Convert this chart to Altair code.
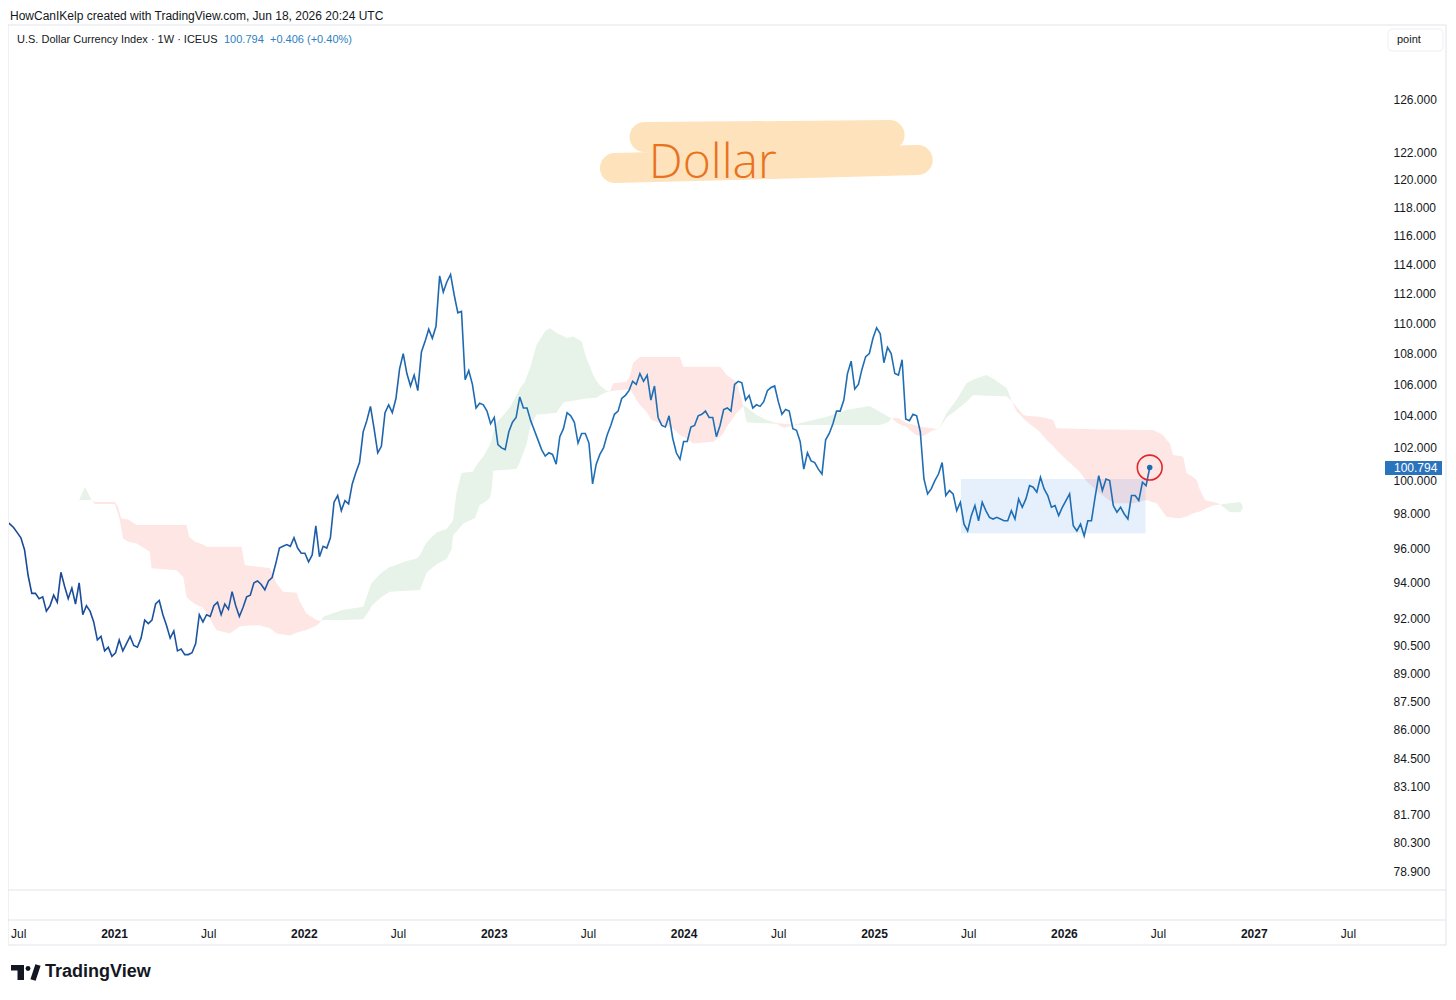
import altair as alt
import numpy as np
import pandas as pd

# ---------------- data ----------------
START = "2020-06-08"  # Monday of first weekly bar

close_2020 = [97.6, 97.4, 97.2, 96.9, 96.6, 95.9, 94.4, 93.4, 93.4, 93.1,
              93.2, 92.4, 92.7, 93.3, 92.9, 94.6, 93.8, 93.1, 93.7, 92.8,
              94.0, 92.2, 92.7, 92.4, 91.8, 90.8, 91.0, 90.2, 90.4, 89.9]
close_2021 = [90.1, 90.8, 90.2, 90.6, 91.0, 90.5, 90.4, 90.9, 91.9, 91.7,
              91.9, 92.8, 93.0, 92.2, 91.6, 90.9, 91.3, 90.2, 90.3, 90.0,
              90.0, 90.1, 90.6, 92.2, 91.8, 92.2, 92.1, 92.7, 92.9, 92.2,
              92.8, 92.5, 93.5, 92.7, 92.1, 92.6, 93.2, 93.3, 94.0, 94.1,
              93.9, 93.6, 94.1, 94.3, 95.1, 96.0, 96.1, 96.2, 96.1, 96.6,
              96.0, 95.7]
close_2022 = [95.7, 95.2, 95.6, 97.3, 95.5, 96.1, 96.0, 96.6, 98.7, 99.1,
              98.2, 98.8, 98.6, 99.8, 100.5, 101.1, 103.0, 103.7, 104.6, 103.2,
              101.7, 102.1, 104.2, 104.7, 104.2, 105.1, 107.0, 108.0, 106.7, 105.9,
              106.6, 105.6, 108.1, 108.8, 109.6, 109.0, 109.8, 113.2, 112.1, 112.8,
              113.3, 111.9, 110.7, 110.8, 106.3, 106.9, 106.0, 104.5, 104.8, 104.7,
              104.3, 103.5]
close_2023 = [103.9, 102.2, 102.0, 101.9, 103.0, 103.6, 103.9, 105.2, 104.5, 104.5,
              103.7, 103.1, 102.5, 101.9, 101.5, 101.7, 101.6, 101.0, 102.7, 103.2,
              104.2, 104.0, 103.6, 102.3, 102.9, 102.9, 102.3, 99.8, 101.0, 101.6,
              102.0, 102.8, 103.4, 104.1, 104.3, 105.1, 105.3, 105.6, 106.2, 106.0,
              106.7, 106.2, 106.6, 105.0, 105.9, 103.9, 103.4, 103.3, 104.0, 102.6,
              101.7, 101.3]
close_2024 = [102.4, 102.4, 103.3, 103.4, 104.0, 104.1, 104.3, 103.9, 103.9, 102.7,
              103.4, 104.4, 104.5, 104.3, 106.0, 106.2, 106.1, 105.0, 105.3, 104.5,
              104.7, 104.6, 104.9, 105.6, 105.8, 105.9, 104.9, 104.1, 104.4, 104.3,
              103.2, 103.1, 102.4, 100.7, 101.7, 101.2, 101.1, 100.7, 100.4, 102.5,
              102.9, 103.5, 104.3, 104.3, 105.0, 106.7, 107.5, 105.7, 106.0, 107.0,
              107.8, 108.0]
close_2025 = [109.0, 109.7, 109.3, 107.4, 108.4, 108.0, 106.7, 106.6, 107.6, 103.8,
              103.7, 104.1, 104.0, 103.0, 100.1, 99.2, 99.5, 100.0, 100.4, 101.1,
              99.1, 99.4, 99.2, 98.2, 98.7, 97.4, 97.0, 97.9, 98.5, 97.6,
              98.7, 98.2, 97.8, 97.7, 97.8, 97.7, 97.6, 97.6, 98.2, 97.7,
              98.9, 98.4, 98.9, 99.7, 99.6, 99.3, 100.2, 99.5, 99.1, 98.4,
              98.5, 97.9]
close_2026 = [98.4, 98.8, 99.2, 97.3, 97.0, 97.4, 96.7, 97.6, 97.6, 99.0,
              100.3, 99.4, 100.1, 100.0, 98.5, 98.1, 98.4, 98.0, 97.7, 99.1,
              99.1, 98.8, 99.9, 99.7, 100.794]

# Ichimoku cloud edges, position in weeks from START
cloud_w = [20.0, 21.6, 23.4,
           23.4, 24.3, 29.8, 30.7, 31.2, 31.6, 32.1, 33.5, 35.8, 39.4, 39.9, 46.7, 48.6, 49.5,
           50.2, 51.8, 54.0, 55.0, 55.9, 57.7, 61.4, 64.1, 64.6, 65.5, 69.6, 72.4, 74.2, 76.0,
           77.9, 79.7, 80.6, 82.4, 85.2, 86.5,
           86.5, 87.0, 92.3, 98.0, 99.8, 100.3, 103.0, 105.3, 106.2, 109.9, 112.7, 113.6, 114.9,
           115.4, 117.2, 118.2, 120.9, 122.3, 122.7, 123.6, 125.0, 125.5, 128.2, 128.7, 130.0,
           131.0, 132.8, 133.3, 133.7, 134.6, 136.4, 138.3, 140.1, 141.0, 141.5, 142.4, 142.9,
           143.8, 145.6, 147.9, 149.3, 151.1, 152.9, 153.9, 155.7, 158.0, 159.3, 161.2, 162.1,
           163.0, 164.8, 165.8,
           165.8, 166.7, 170.3, 171.2, 172.1, 173.1, 174.0, 175.8, 177.2, 179.5, 183.1, 185.0,
           185.9, 186.8, 188.6, 194.1, 196.0, 196.9, 197.8, 200.5, 202.4,
           202.4, 203.3, 206.0, 208.8, 211.5,
           211.5, 213.5, 216.3,
           216.3, 217.9, 221.6, 225.3, 230.7, 237.1, 239.9, 242.2, 243.1,
           243.1, 245.0, 247.3, 248.1, 249.9, 251.8, 254.6, 256.0,
           256.0, 258.2, 260.9, 263.7, 265.5, 266.5, 269.2, 271.5, 274.7, 276.2,
           276.2, 277.4, 279.3, 280.2, 283.8, 285.7, 287.5, 288.4, 291.2, 294.8, 296.7, 300.3,
           304.0, 309.5, 313.2, 314.9, 315.9, 317.7, 318.6, 319.5, 320.4, 322.3, 323.2, 324.1,
           326.0, 326.9, 327.8, 329.2, 329.6, 331.4, 332.8, 333.3,
           333.3, 336.0, 338.8, 339.5]
cloud_top = [98.83, 99.63, 98.83,
             98.83, 98.72, 98.72, 98.43, 98.00, 97.74, 97.72, 97.68, 97.35, 97.35, 97.35, 97.35,
             97.35, 97.35, 96.66, 96.37, 96.20, 96.08, 96.08, 96.08, 96.08, 96.08, 96.08, 95.01,
             94.91, 94.84, 93.97, 93.49, 93.46, 93.43, 92.93, 92.27, 91.90, 91.85,
             91.85, 92.09, 92.46, 92.65, 93.70, 93.99, 94.57, 94.90, 94.96, 95.25, 95.39, 95.60,
             96.13, 96.30, 96.72, 96.90, 97.12, 97.50, 97.64, 99.23, 100.45, 100.48, 100.55,
             100.80, 101.20, 101.47, 102.20, 102.52, 102.90, 103.59, 104.01, 104.55, 105.30,
             105.73, 105.90, 106.16, 106.50, 107.02, 108.56, 109.46, 109.68, 109.35, 109.15,
             109.02, 109.13, 108.80, 107.70, 106.60, 106.20, 105.95, 105.60, 105.55,
             105.55, 106.07, 106.17, 106.50, 107.37, 107.60, 107.77, 107.77, 107.77, 107.77,
             107.77, 107.77, 107.14, 107.14, 107.14, 107.14, 107.14, 106.90, 106.60, 106.17, 104.65,
             104.65, 104.55, 104.05, 103.74, 103.55,
             103.55, 103.50, 103.45,
             103.45, 103.53, 103.74, 103.95, 104.37, 104.62, 104.26, 103.95, 103.85,
             103.85, 103.85, 103.53, 103.50, 103.40, 103.30, 103.20, 103.15,
             103.15, 104.16, 105.00, 106.08, 106.30, 106.40, 106.61, 106.30, 105.77, 104.90,
             104.90, 104.57, 104.05, 104.00, 103.95, 103.85, 103.74, 103.22, 103.20, 103.18,
             103.17, 103.15, 103.14, 103.13, 103.12, 103.11, 103.00, 102.80, 102.50, 102.29,
             101.57, 101.50, 101.46, 100.46, 100.20, 100.04, 99.43, 98.83, 98.80, 98.72, 98.62,
             98.57,
             98.57, 98.64, 98.72, 98.50]
cloud_bot = [98.83, 98.83, 98.83,
             98.83, 98.60, 98.60, 98.00, 97.64, 97.10, 96.56, 96.36, 96.27, 95.79, 94.83, 94.72,
             94.34, 93.21, 93.05, 92.80, 92.59, 92.30, 91.97, 91.35, 91.16, 91.54, 91.56, 91.58,
             91.62, 91.44, 91.16, 91.10, 91.05, 91.20, 91.25, 91.35, 91.60, 91.85,
             91.85, 91.90, 91.90, 91.95, 92.46, 92.70, 93.20, 93.49, 93.50, 93.55, 93.58, 93.59,
             94.30, 94.57, 94.90, 95.06, 95.36, 95.95, 96.74, 96.95, 97.30, 97.44, 97.70, 97.74,
             98.53, 98.65, 98.94, 99.50, 100.60, 100.62, 100.64, 100.67, 100.70, 101.10, 101.43,
             101.95, 102.24, 103.26, 104.08, 104.12, 104.15, 104.19, 104.83, 104.90, 104.95,
             105.05, 105.10, 105.13, 105.15, 105.30, 105.50, 105.55,
             105.55, 105.60, 105.68, 105.70, 105.40, 105.00, 104.70, 104.26, 103.74, 103.53,
             103.21, 102.80, 102.70, 102.59, 102.28, 102.38, 102.70, 102.90, 103.30, 104.16, 104.60,
             104.60, 103.60, 103.55, 103.53, 103.50,
             103.50, 103.25, 103.40,
             103.40, 103.42, 103.42, 103.42, 103.42, 103.42, 103.42, 103.60, 103.85,
             103.85, 103.50, 103.30, 103.11, 102.80, 102.74, 103.11, 103.15,
             103.15, 103.90, 104.37, 104.90, 105.32, 105.30, 105.28, 105.26, 105.24, 104.90,
             104.90, 104.30, 103.85, 103.64, 103.00, 102.49, 102.10, 101.88, 101.25, 100.54,
             99.94, 99.24, 98.64, 98.64, 98.83, 98.70, 98.64, 98.10, 97.84, 97.80, 97.78, 97.74,
             97.80, 97.85, 98.04, 98.10, 98.15, 98.30, 98.34, 98.50, 98.55, 98.57,
             98.57, 98.11, 98.11, 98.30]
cloud_kind = (["bull"] * 3 + ["bear"] * 34 + ["bull"] * 52 + ["bear"] * 21 + ["bull"] * 5
              + ["bear"] * 3 + ["bull"] * 9 + ["bear"] * 8 + ["bull"] * 10 + ["bear"] * 32
              + ["bull"] * 4)

price_ticks = [126, 122, 120, 118, 116, 114, 112, 110, 108, 106, 104, 102, 100, 98,
               96, 94, 92, 90.5, 89, 87.5, 86, 84.5, 83.1, 81.7, 80.3, 78.9]
time_ticks = [(2020, 7), (2021, 1), (2021, 7), (2022, 1), (2022, 7), (2023, 1), (2023, 7),
              (2024, 1), (2024, 7), (2025, 1), (2025, 7), (2026, 1), (2026, 7), (2027, 1),
              (2027, 7)]

box_dates = ["2025-06-17", "2026-06-07"]
box_prices = [100.1, 96.86]

hl_id = ["a", "a", "b", "b"]
hl_date = ["2023-10-18", "2025-01-31", "2023-08-22", "2025-03-26"]
hl_price = [123.13, 123.28, 120.84, 121.43]
hl_width = [30, 30, 30, 30]

note_text = ["Dollar"]
note_date = ["2024-02-26"]
note_price = [120.11]

last_price = "100.794"
change_text = "+0.406 (+0.40%)"

# ---------------- frames ----------------
closes = close_2020 + close_2021 + close_2022 + close_2023 + close_2024 + close_2025 + close_2026
dates = pd.date_range(START, periods=len(closes), freq="7D")
price = pd.DataFrame({"date": dates, "close": closes})
last = price.tail(1)

start = pd.Timestamp(START)
cloud = pd.DataFrame({
    "date": start + pd.to_timedelta(np.array(cloud_w) * 7, unit="D"),
    "top": cloud_top, "bot": cloud_bot, "kind": cloud_kind,
})
cloud["seg"] = (cloud["kind"] != cloud["kind"].shift()).cumsum()

box = pd.DataFrame({"date": [box_dates[0]], "d2": [box_dates[1]],
                    "close": [box_prices[0]], "p2": [box_prices[1]]})
hl = pd.DataFrame({"id": hl_id, "date": hl_date, "close": hl_price, "w": hl_width})
note = pd.DataFrame({"t": note_text, "date": note_date, "close": note_price})

# ---------------- scales / axes ----------------
x_scale = alt.Scale(domain=[alt.DateTime(year=2020, month=6, date=13, hours=4),
                            alt.DateTime(year=2027, month=9, date=10, hours=7)], nice=False)
y_scale = alt.Scale(type="log", domain=[78.04, 131.78], nice=False, zero=False)

FONT = "Liberation Sans"
INK = "#131722"
LINE = "#e0e3eb"

x_axis = alt.Axis(
    values=[alt.DateTime(year=y, month=m, date=1) for y, m in time_ticks],
    labelExpr="month(datum.value) == 0 ? timeFormat(datum.value, '%Y') : 'Jul'",
    labelFontWeight={"condition": {"test": "month(datum.value) == 0", "value": "bold"},
                     "value": "normal"},
    domain=False, ticks=False, grid=False, title=None,
    labelPadding=38, labelFontSize=12, labelColor=INK, labelFont=FONT,
    labelOverlap=False, labelFlush=False,
)
y_axis = alt.Axis(
    orient="right", values=price_ticks, format=".3f",
    domain=False, ticks=False, grid=False, title=None,
    labelPadding=8, labelAlign="left", labelFontSize=12, labelColor=INK, labelFont=FONT,
    labelOverlap=False, labelFlush=False,
)

X = alt.X("date:T", scale=x_scale, axis=x_axis, title=None)
Y = alt.Y("close:Q", scale=y_scale, axis=y_axis, title=None)

one = pd.DataFrame({"a": [0]})

# ---------------- layers ----------------
cloud_layer = alt.Chart(cloud).mark_area(clip=True, opacity=1).encode(
    x=X,
    y=alt.Y("top:Q", scale=y_scale, axis=y_axis, stack=None, title=None),
    y2="bot:Q",
    color=alt.Color("kind:N", scale=alt.Scale(domain=["bull", "bear"],
                                              range=["#e7f3e8", "#fde6e4"]), legend=None),
    detail="seg:N",
)

box_layer = alt.Chart(box).mark_rect(color="#1e73e8", opacity=0.11).encode(
    x=X, x2="d2:T", y=Y, y2="p2:Q",
)

hl_layer = alt.Chart(hl).mark_line(color="#fee2bb", strokeCap="round").encode(
    x=X, y=Y,
    strokeWidth=alt.StrokeWidth("w:Q", scale=None),
    detail="id:N",
)

note_layer = alt.Chart(note).mark_text(
    font="Open Sans", fontWeight=300, fontSize=48,
    color="#e8731f", align="center", baseline="alphabetic").encode(
    x=X, y=Y, text="t:N",
)

grad = alt.Gradient(gradient="linear", x1=0, x2=1, y1=0, y2=0, stops=[
    alt.GradientStop(color="#1a4795", offset=0),
    alt.GradientStop(color="#1d5ca7", offset=0.25),
    alt.GradientStop(color="#1f6fb5", offset=0.45),
    alt.GradientStop(color="#1f6db3", offset=1),
])
line_layer = alt.Chart(price).mark_line(color=grad, strokeWidth=1.6, clip=True).encode(
    x=X, y=Y,
)

dot_layer = alt.Chart(last).mark_circle(size=30, color="#1e6ab0", opacity=1).encode(x=X, y=Y)
ring_layer = alt.Chart(last).mark_point(shape="circle", size=616, filled=False,
                                        color="#e0262b", strokeWidth=1.6, opacity=1).encode(
    x=X, y=Y)


def txt(s, x, y, size=12, color=INK, weight="normal", align="left"):
    return alt.Chart(pd.DataFrame({"t": [s]})).mark_text(
        align=align, baseline="middle", fontSize=size, color=color,
        fontWeight=weight, font=FONT).encode(
        x=alt.value(x), y=alt.value(y), text="t:N")


def hrule(y, x1=-1, x2=1437):
    return alt.Chart(one).mark_rule(color=LINE, strokeWidth=1).encode(
        x=alt.value(x1), x2=alt.value(x2), y=alt.value(y))


frame = alt.Chart(one).mark_rect(fillOpacity=0, stroke=LINE, strokeWidth=1).encode(
    x=alt.value(-1), x2=alt.value(1437), y=alt.value(0), y2=alt.value(920))

point_box = alt.Chart(one).mark_rect(fill="white", stroke="#eceef2", strokeWidth=1,
                                     cornerRadius=4).encode(
    x=alt.value(1379), x2=alt.value(1434), y=alt.value(4), y2=alt.value(26))

tag = alt.Chart(one).mark_rect(color="#2a74bd").encode(
    x=alt.value(1376), x2=alt.value(1433), y=alt.value(436), y2=alt.value(450))

logo_bar = alt.Chart(one).mark_rect(color=INK).encode(
    x=alt.value(2), x2=alt.value(15), y=alt.value(940), y2=alt.value(945.5))
logo_stem = alt.Chart(one).mark_rect(color=INK).encode(
    x=alt.value(8.5), x2=alt.value(15), y=alt.value(940), y2=alt.value(955))
logo_dot = alt.Chart(one).mark_circle(color=INK, size=24, opacity=1).encode(
    x=alt.value(19), y=alt.value(943.5))
logo_slant = alt.Chart(one).mark_rule(color=INK, strokeWidth=5.5).encode(
    x=alt.value(24), y=alt.value(955), x2=alt.value(29), y2=alt.value(940))

chart = alt.layer(
    cloud_layer, box_layer, hl_layer, note_layer, line_layer, dot_layer, ring_layer,
    frame, hrule(865), hrule(895),
    txt("HowCanIKelp created with TradingView.com, Jun 18, 2026 20:24 UTC", 1, -9, size=12),
    txt("U.S. Dollar Currency Index · 1W · ICEUS", 8, 15, size=11),
    txt(last_price, 215, 15, size=11, color="#2e7fc0"),
    txt(change_text, 261, 15, size=11, color="#2e7fc0"),
    point_box, txt("point", 1388, 15, size=11),
    tag, txt(last_price, 1385, 443, size=12, color="white"),
    logo_bar, logo_stem, logo_dot, logo_slant,
    txt("TradingView", 36, 947, size=18, weight="bold"),
).properties(
    width=1376, height=865,
    padding={"left": 1, "top": 17, "right": 62, "bottom": 95},
    autosize=alt.AutoSizeParams(type="none"),
    background="white",
).configure_view(stroke=None)

chart.save("out.html", embed_options={"renderer": "svg", "actions": False})
